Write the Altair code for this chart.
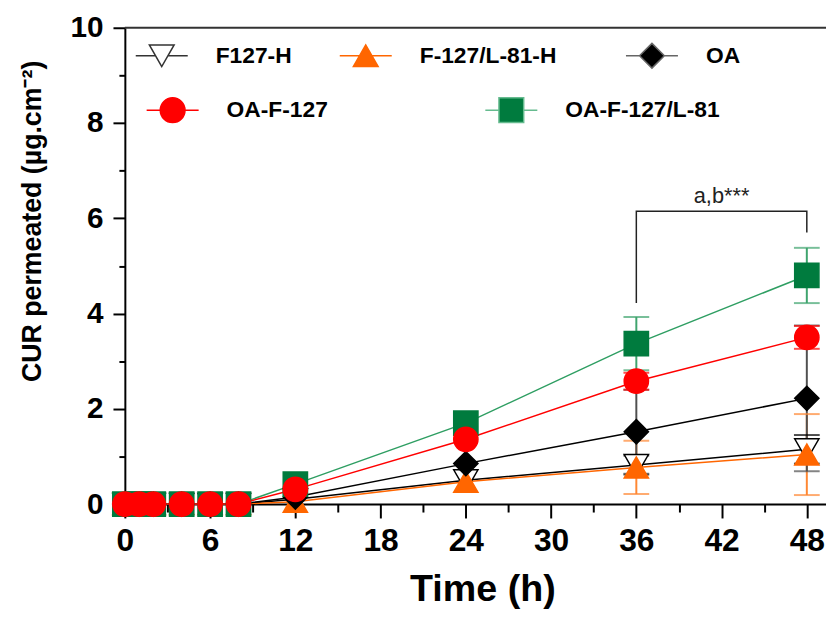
import altair as alt
import pandas as pd

# ---------------- data ----------------
times = [0, 1, 2, 4, 6, 8, 12, 24, 36, 48]
series_names = ["F127-H", "F-127/L-81-H", "OA", "OA-F-127", "OA-F-127/L-81"]

f127_h = [0, 0, 0, 0, 0, 0, 0.10, 0.50, 0.82, 1.15]
f127_l81_h = [0, 0, 0, 0, 0, 0, 0.05, 0.47, 0.77, 1.04]
oa = [0, 0, 0, 0, 0, 0, 0.15, 0.85, 1.52, 2.22]
oa_f127 = [0, 0, 0, 0, 0, 0, 0.31, 1.36, 2.58, 3.50]
oa_f127_l81 = [0, 0, 0, 0, 0, 0, 0.42, 1.70, 3.37, 4.80]

err_f127_h = [0, 0, 0, 0, 0, 0, 0, 0, 0.20, 0.30]
err_f127_l81_h = [0, 0, 0, 0, 0, 0, 0, 0, 0.56, 0.85]
err_oa = [0, 0, 0, 0, 0, 0, 0, 0, 0.88, 1.53]
err_oa_f127 = [0, 0, 0, 0, 0, 0, 0, 0, 0.18, 0.24]
err_oa_f127_l81 = [0, 0, 0, 0, 0, 0, 0, 0, 0.56, 0.58]

bracket_x = [36, 36, 48, 48]
bracket_y = [4.22, 6.15, 6.15, 5.70]
annot_x = [42]
annot_y = [6.47]
annot_text = ["a,b***"]

x_major_ticks = [0, 6, 12, 18, 24, 30, 36, 42, 48]
x_minor_ticks = [3, 9, 15, 21, 27, 33, 39, 45]
y_major_ticks = [0, 2, 4, 6, 8, 10]
y_minor_ticks = [1, 3, 5, 7, 9]

# ---------------- styles ----------------
FONT = "Liberation Sans"
values_by_series = {
    "F127-H": (f127_h, err_f127_h),
    "F-127/L-81-H": (f127_l81_h, err_f127_l81_h),
    "OA": (oa, err_oa),
    "OA-F-127": (oa_f127, err_oa_f127),
    "OA-F-127/L-81": (oa_f127_l81, err_oa_f127_l81),
}
draw_order = ["F127-H", "F-127/L-81-H", "OA", "OA-F-127/L-81", "OA-F-127"]

line_colors = ["#000000", "#ff6600", "#000000", "#ff0000", "#2e9e62"]
err_colors = ["#000000", "#ff8833", "#505050", "#ff0000", "#3fa46e"]
fill_colors = ["#ffffff", "#ff6600", "#000000", "#ff0000", "#007b3e"]
mark_strokes = ["#000000", "#ff6600", "#000000", "#ff0000", "#007b3e"]
stub_colors = ["#333333", "#ff6600", "#666666", "#ff0000", "#66bb8f"]
shapes = ["triangle-down", "triangle-up", "diamond", "circle", "square"]
legend_paths = [
    "M-2.1,0H-0.5M0.5,0H2.1M0,0.87L-1,-0.87L1,-0.87Z",
    "M-2.1,0H-0.5M0.5,0H2.1M0,-0.87L-1,0.87L1,0.87Z",
    "M-2.1,0H-1M1,0H2.1M0,-1L1,0L0,1L-1,0Z",
    "M-2.1,0H-1M1,0H2.1M1,0A1,1,0,1,1,-1,0A1,1,0,1,1,1,0Z",
    "M-2.1,0H-1M1,0H2.1M-1,-1H1V1H-1Z",
]
# legend symbol centres, in pixels from the plot's top-left corner
legend_pos = [(37, 28), (243, 28), (532, 28), (48, 83), (390, 83)]

rows = []
for s in draw_order:
    vals, errs = values_by_series[s]
    for t, v, e in zip(times, vals, errs):
        rows.append({"series": s, "time": t, "value": v, "err": e,
                     "lo": v - e, "hi": v + e})
df = pd.DataFrame(rows)
df_err = df[df["err"] > 0]

xs = alt.Scale(domain=[0, 49.35], nice=False, zero=False)
ys = alt.Scale(domain=[0, 10], nice=False)

x_major = alt.Axis(values=x_major_ticks, orient="bottom", grid=False,
                   tickSize=14, tickWidth=2, tickColor="#000",
                   domainColor="#000", domainWidth=2,
                   labelFont=FONT, labelFontSize=32, labelFontWeight="bold",
                   labelColor="#000", labelPadding=8, labelFlush=False,
                   title="Time (h)", titleFont=FONT, titleFontSize=38,
                   titleFontWeight="bold", titleColor="#000",
                   titleX=361, titleY=97, titleBaseline="alphabetic",
                   titleAlign="center")
x_minor = alt.Axis(values=x_minor_ticks, orient="bottom", grid=False,
                   tickSize=8, tickWidth=2, tickColor="#000",
                   domain=False, labels=False, title=None)
y_major = alt.Axis(values=y_major_ticks, orient="left", grid=False,
                   tickSize=12, tickWidth=2, tickColor="#000",
                   domainColor="#000", domainWidth=2,
                   labelFont=FONT, labelFontSize=30, labelFontWeight="bold",
                   labelColor="#000", labelPadding=10, labelFlush=False,
                   title="CUR permeated (µg.cm⁻²)", titleFont=FONT,
                   titleFontSize=27, titleFontWeight="bold", titleColor="#000",
                   titleX=-93, titleY=195, titleBaseline="middle",
                   titleAlign="center", titleAngle=270)
y_minor = alt.Axis(values=y_minor_ticks, orient="left", grid=False,
                   tickSize=6, tickWidth=2, tickColor="#000",
                   domain=False, labels=False, title=None)

top_frame = alt.Chart(pd.DataFrame({"v": [y_major_ticks[-1]]})).mark_rule(
    color="#333333", strokeWidth=2).encode(y=alt.Y("v:Q", scale=ys, axis=None))

lines = alt.Chart(df).mark_line(strokeWidth=1.5).encode(
    x=alt.X("time:Q", scale=xs, axis=x_major),
    y=alt.Y("value:Q", scale=ys, axis=y_major),
    stroke=alt.Stroke("series:N", scale=alt.Scale(domain=series_names, range=line_colors), legend=None),
    detail="series:N",
    order="time:Q",
)

err_rules = alt.Chart(df_err).mark_rule(strokeWidth=2).encode(
    x=alt.X("time:Q", scale=xs, axis=None),
    y=alt.Y("lo:Q", scale=ys, axis=None),
    y2="hi:Q",
    stroke=alt.Stroke("series:N", scale=alt.Scale(domain=series_names, range=err_colors), legend=None),
)
err_caps_hi = alt.Chart(df_err).mark_tick(orient="horizontal", size=26, thickness=2).encode(
    x=alt.X("time:Q", scale=xs, axis=None),
    y=alt.Y("hi:Q", scale=ys, axis=None),
    color=alt.Color("series:N", scale=alt.Scale(domain=series_names, range=err_colors), legend=None),
)
err_caps_lo = alt.Chart(df_err).mark_tick(orient="horizontal", size=26, thickness=2).encode(
    x=alt.X("time:Q", scale=xs, axis=None),
    y=alt.Y("lo:Q", scale=ys, axis=None),
    color=alt.Color("series:N", scale=alt.Scale(domain=series_names, range=err_colors), legend=None),
)

points = alt.Chart(df).mark_point(filled=True, size=600, strokeWidth=1.5, opacity=1).encode(
    x=alt.X("time:Q", scale=xs, axis=x_minor),
    y=alt.Y("value:Q", scale=ys, axis=y_minor),
    shape=alt.Shape("series:N", scale=alt.Scale(domain=series_names, range=shapes), legend=None),
    fill=alt.Fill("series:N", scale=alt.Scale(domain=series_names, range=fill_colors), legend=None),
    stroke=alt.Stroke("series:N", scale=alt.Scale(domain=series_names, range=mark_strokes), legend=None),
)

bracket = alt.Chart(pd.DataFrame({"x": bracket_x, "y": bracket_y, "k": list(range(len(bracket_x)))})).mark_line(
    color="#222222", strokeWidth=1.5).encode(
    x=alt.X("x:Q", scale=xs, axis=None),
    y=alt.Y("y:Q", scale=ys, axis=None),
    order="k:Q",
)
annot = alt.Chart(pd.DataFrame({"x": annot_x, "y": annot_y, "t": annot_text})).mark_text(
    font=FONT, fontSize=22, color="#222222", baseline="middle").encode(
    x=alt.X("x:Q", scale=xs, axis=None),
    y=alt.Y("y:Q", scale=ys, axis=None),
    text="t:N",
)

legend_layers = []
for i, name in enumerate(series_names):
    cx, cy = legend_pos[i]
    leg = alt.Legend(title=None, orient="none",
                     legendX=cx - 13.25, legendY=cy - 13.25,
                     symbolSize=625, symbolStrokeWidth=1.5, symbolOpacity=1,
                     labelFont=FONT, labelFontSize=23,
                     labelFontWeight="bold", labelColor="#000",
                     labelOffset=41, labelLimit=400, padding=0)
    legend_layers.append(
        alt.Chart(pd.DataFrame({"series": [name]})).mark_point(
            filled=True, strokeWidth=1.5, clip=True).encode(
            x=alt.value(0), y=alt.value(-1000),
            shape=alt.Shape("series:N",
                            scale=alt.Scale(domain=[name], range=[legend_paths[i]]),
                            legend=leg),
            fill=alt.Fill("series:N",
                          scale=alt.Scale(domain=[name], range=[fill_colors[i]]),
                          legend=leg),
            stroke=alt.Stroke("series:N",
                              scale=alt.Scale(domain=[name], range=[stub_colors[i]]),
                              legend=leg),
        )
    )

chart = alt.layer(
    top_frame, lines, err_rules, err_caps_hi, err_caps_lo, points, bracket, annot,
    *legend_layers,
).resolve_scale(
    shape="independent", fill="independent", stroke="independent", color="independent"
).resolve_axis(
    x="independent", y="independent"
).resolve_legend(
    shape="independent", fill="independent", stroke="independent"
).properties(
    width=708, height=481,
    autosize=alt.AutoSizeParams(type="none"),
    padding={"left": 118, "top": 17, "right": 0, "bottom": 107},
    background="white",
).configure_view(strokeWidth=0)

chart.save("out.html", embed_options={"renderer": "svg", "actions": False})
